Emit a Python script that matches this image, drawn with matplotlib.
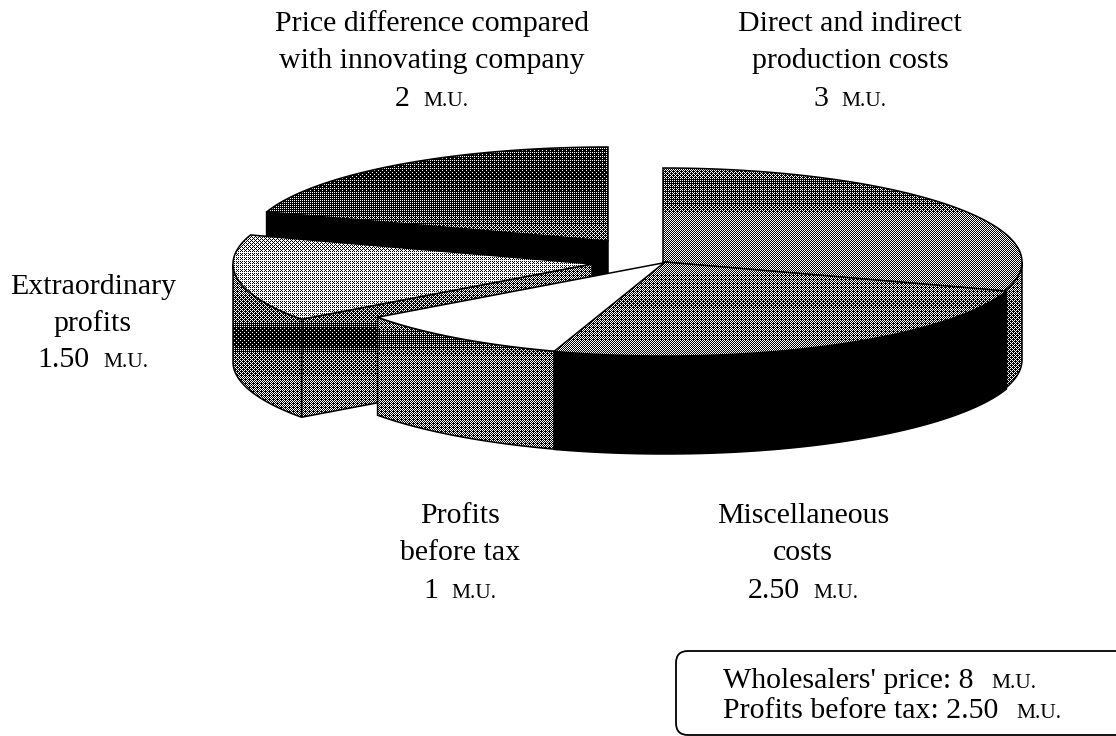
import numpy as np
import matplotlib
matplotlib.use("Agg")
import matplotlib.pyplot as plt
from matplotlib.patches import Polygon, FancyBboxPatch

# ---- data
labels = [["Direct and indirect", "production costs"],
          ["Miscellaneous", "costs"],
          ["Profits", "before tax"],
          ["Extraordinary", "profits"],
          ["Price difference compared", "with innovating company"]]
values = [3, 2.5, 1, 1.5, 2]
value_texts = ["3", "2.50", "1", "1.50", "2"]
unit = "M.U."
box_lines = [("Wholesalers' price: 8", unit), ("Profits before tax: 2.50", unit)]

# ---- geometry / style
W, H = 1116, 736
CX, CY, RX, RY, DEPTH = 663, 262, 359, 94, 98
explode = [(0, 0), (2, 0), (5, 0), (-71, 2), (-55, -21)]
draw_order = [4, 0, 3, 2, 1]
# grey level versus absolute picture height, for each sector
top_shade = [([168, 180, 205, 216, 290], [.50, .28, .30, .50, .50]),
             ([262, 300, 330, 352], [.50, .40, .42, .50]),
             ([262, 352], [1, 1]),
             ([236, 280, 320], [.62, .72, .68]),
             ([148, 175, 195, 215, 240], [.22, .14, .24, .28, .42])]
side_shade = [([260, 370], [.42, .38]),
              ([260, 460], [.03, .03]),
              ([318, 340, 360, 420], [.50, .24, .46, .46]),
              ([236, 322, 330, 346, 356, 420], [.42, .40, .10, .10, .40, .42]),
              ([200, 340], [.03, .03])]
text_anchor = [(850, [31, 68, 106]), (803, [523, 560, 598]), (460, [523, 560, 598]),
               (93, [294, 331, 367]), (432, [31, 68, 106])]
FONT = "Liberation Serif"
FS, FS_SMALL = 21.5, 15.5

BAYER = np.array([[0, 8, 2, 10], [12, 4, 14, 6], [3, 11, 1, 9], [15, 7, 13, 5]])
BAYER = (BAYER + .5) / 16

fig = plt.figure(figsize=(W / 100, H / 100), dpi=100)
ax = fig.add_axes([0, 0, 1, 1])
ax.set_axis_off()


def shaded(points, shade):
    """Fill a polygon with an ordered halftone of a vertical grey profile."""
    pts = np.asarray(points)
    x0, y0 = np.floor(pts.min(axis=0)).astype(int)
    x1, y1 = np.ceil(pts.max(axis=0)).astype(int)
    ys, xs = np.mgrid[y0:y1, x0:x1]
    grey = np.interp(ys + .5, *shade)
    mask = grey > BAYER[ys % 4, xs % 4]
    im = ax.imshow(mask, cmap="gray", vmin=0, vmax=1, extent=(x0, x1, y1, y0),
                   interpolation="nearest", aspect="auto", zorder=order[0])
    poly = Polygon(pts, closed=True, facecolor="none", edgecolor="black", lw=1.1,
                   zorder=order[0] + .5)
    ax.add_patch(poly)
    im.set_clip_path(poly)
    order[0] += 1


order = [1]
fracs = np.cumsum([0] + values) / sum(values) * 360


def rim(theta, cx, cy):
    t = np.radians(theta)
    return np.column_stack([cx + RX * np.sin(t), cy - RY * np.cos(t)])


for i in draw_order:
    ts, te = fracs[i], fracs[i + 1]
    cx, cy = CX + explode[i][0], CY + explode[i][1]
    apex = np.array([[cx, cy]])
    down = np.array([0, DEPTH])
    # radial faces that turn toward the viewer
    if np.sin(np.radians(ts)) < -1e-6:
        p = rim([ts], cx, cy)
        shaded(np.vstack([apex, p, p + down, apex + down]), side_shade[i])
    if np.sin(np.radians(te)) > 1e-6:
        p = rim([te], cx, cy)
        shaded(np.vstack([apex, p, p + down, apex + down]), side_shade[i])
    # outer wall, front half only
    a, b = max(ts, 90), min(te, 270)
    if b > a:
        arc = rim(np.linspace(a, b, 80), cx, cy)
        shaded(np.vstack([arc, arc[::-1] + down]), side_shade[i])
    # top
    arc = rim(np.linspace(ts, te, 120), cx, cy)
    shaded(np.vstack([apex, arc]), top_shade[i])

ax.set_xlim(0, W)
ax.set_ylim(H, 0)
renderer = fig.canvas.get_renderer()


def mixed(x, y, main, small, align="center", gap=14):
    """One line with the unit set in smaller capitals."""
    t1 = ax.text(0, y, main, fontsize=FS, family=FONT, va="baseline", ha="left", zorder=100)
    t2 = ax.text(0, y, small, fontsize=FS_SMALL, family=FONT, va="baseline", ha="left", zorder=100)
    w1 = t1.get_window_extent(renderer).width
    w2 = t2.get_window_extent(renderer).width
    left = x - (w1 + gap + w2) / 2 if align == "center" else x
    t1.set_x(left)
    t2.set_x(left + w1 + gap)


for lab, val, (tx, tys) in zip(labels, value_texts, text_anchor):
    for line, ty in zip(lab, tys):
        ax.text(tx, ty, line, fontsize=FS, family=FONT, ha="center", va="baseline", zorder=100)
    mixed(tx, tys[2], val, unit)

box = FancyBboxPatch((676, 651), 500, 84, boxstyle="round,pad=0,rounding_size=12",
                     facecolor="white", edgecolor="black", lw=1.3, zorder=50)
ax.add_patch(box)
for (main, small), ty in zip(box_lines, [688, 718]):
    mixed(723, ty, main, small, align="left", gap=18)

fig.savefig("out.png", dpi=100, facecolor="white")
